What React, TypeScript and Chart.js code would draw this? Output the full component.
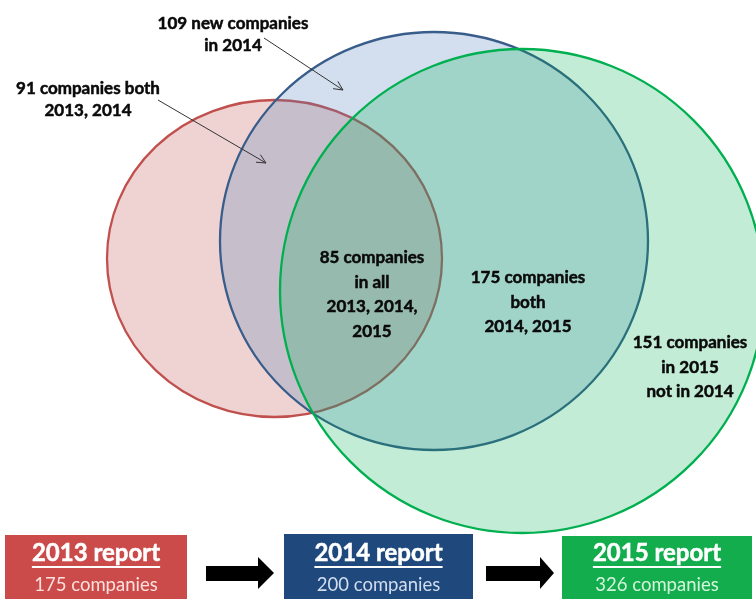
import React, { useEffect, useRef } from "react";
import { Chart, registerables } from "chart.js";

Chart.register(...registerables);

// ---- Data ----
const YEARS = ["2013", "2014", "2015"];
const REPORT_COUNTS = [175, 200, 326];
// Venn sets in diagram units (x to the right, y downward)
const CENTER_X = [274.5, 434, 522];
const CENTER_Y = [258.5, 241, 291];
const RADIUS_X = [167.5, 214, 242];
const RADIUS_Y = [158.5, 209, 242];

const REGION_TEXT: string[][] = [
  ["109 new companies", "in 2014"],
  ["91 companies both", "2013, 2014"],
  ["85 companies", "in all", "2013, 2014,", "2015"],
  ["175 companies", "both", "2014, 2015"],
  ["151 companies", "in 2015", "not in 2014"],
];
const REGION_X = [233, 88, 372, 528, 690];
const REGION_Y = [24, 89, 258, 278, 343];

// ---- Styles / layout ----
const SET_FILL = ["rgba(192,80,77,0.25)", "rgba(79,129,189,0.25)", "rgba(0,176,80,0.24)"];
const SET_STROKE = ["#c0504d", "#385d8a", "#00b050"];
const BOX_FILL = ["#cb4b4b", "#1f497d", "#14ad4e"];
const BOX_SUB = ["#fde0dc", "#d2ddef", "#d3f5dc"];
const BOX_LEFT = [5, 284, 562];
const BOX_RIGHT = [187, 473, 752];
const BOX_TOP = [535, 534, 536];
const POINTERS = [
  [264, 38, 343, 90],
  [158, 100, 266, 163],
];
const BLOCK_ARROWS = [
  [206, 258, 274],
  [486, 540, 554],
];
const FONT = "Lato, 'Open Sans', sans-serif";

const vennPlugin = {
  id: "venn",
  beforeDatasetsDraw(chart: any) {
    const { ctx, scales } = chart;
    const xs = scales.x;
    const ys = scales.y;
    ctx.save();
    for (let i = 0; i < CENTER_X.length; i++) {
      const cx = xs.getPixelForValue(CENTER_X[i]);
      const cy = ys.getPixelForValue(CENTER_Y[i]);
      const rx = Math.abs(xs.getPixelForValue(CENTER_X[i] + RADIUS_X[i]) - cx);
      const ry = Math.abs(ys.getPixelForValue(CENTER_Y[i] + RADIUS_Y[i]) - cy);
      ctx.beginPath();
      ctx.ellipse(cx, cy, rx, ry, 0, 0, Math.PI * 2);
      ctx.fillStyle = SET_FILL[i];
      ctx.fill();
      ctx.lineWidth = 2.3;
      ctx.strokeStyle = SET_STROKE[i];
      ctx.stroke();
    }
    ctx.restore();
  },
  afterDatasetsDraw(chart: any) {
    const { ctx, scales } = chart;
    const xs = scales.x;
    const ys = scales.y;
    const px = (v: number) => xs.getPixelForValue(v);
    const py = (v: number) => ys.getPixelForValue(v);
    ctx.save();
    // region labels
    ctx.fillStyle = "#0a0a0a";
    ctx.strokeStyle = "#0a0a0a";
    ctx.lineWidth = 0.5;
    ctx.textAlign = "center";
    ctx.textBaseline = "middle";
    ctx.font = `bold 17px ${FONT}`;
    REGION_TEXT.forEach((lines, i) => {
      lines.forEach((t, j) => {
        const lh = i < 2 ? 22 : 24.5;
        const x = px(REGION_X[i]);
        const y = py(REGION_Y[i] + j * lh);
        ctx.fillText(t, x, y);
        ctx.strokeText(t, x, y);
      });
    });
    // pointer arrows
    ctx.strokeStyle = "#333";
    ctx.lineWidth = 1;
    POINTERS.forEach(([x1, y1, x2, y2]) => {
      const a = px(x1), b = py(y1), c = px(x2), d = py(y2);
      ctx.beginPath();
      ctx.moveTo(a, b);
      ctx.lineTo(c, d);
      const ang = Math.atan2(d - b, c - a);
      const L = 10;
      ctx.moveTo(c, d);
      ctx.lineTo(c - L * Math.cos(ang - 0.45), d - L * Math.sin(ang - 0.45));
      ctx.moveTo(c, d);
      ctx.lineTo(c - L * Math.cos(ang + 0.45), d - L * Math.sin(ang + 0.45));
      ctx.stroke();
    });
    // report boxes
    const bottom = py(599);
    for (let i = 0; i < YEARS.length; i++) {
      const l = px(BOX_LEFT[i]), r = px(BOX_RIGHT[i]), t = py(BOX_TOP[i]);
      ctx.fillStyle = BOX_FILL[i];
      ctx.fillRect(l, t, r - l, bottom - t);
      const mid = (l + r) / 2;
      const title = `${YEARS[i]} report`;
      ctx.font = `bold 24px ${FONT}`;
      ctx.fillStyle = "#ffffff";
      ctx.strokeStyle = "#ffffff";
      ctx.lineWidth = 0.5;
      ctx.fillText(title, mid, py(553));
      ctx.strokeText(title, mid, py(553));
      const w = ctx.measureText(title).width;
      ctx.fillRect(mid - w / 2, py(566), w, 2);
      ctx.font = `18.5px ${FONT}`;
      ctx.fillStyle = BOX_SUB[i];
      ctx.fillText(`${REPORT_COUNTS[i]} companies`, mid, py(585));
    }
    // block arrows
    ctx.fillStyle = "#000";
    BLOCK_ARROWS.forEach(([x0, x1, x2]) => {
      ctx.beginPath();
      ctx.moveTo(px(x0), py(566));
      ctx.lineTo(px(x1), py(566));
      ctx.lineTo(px(x1), py(557));
      ctx.lineTo(px(x2), py(573));
      ctx.lineTo(px(x1), py(589));
      ctx.lineTo(px(x1), py(581));
      ctx.lineTo(px(x0), py(581));
      ctx.closePath();
      ctx.fill();
    });
    ctx.restore();
  },
};

export default function App() {
  const ref = useRef<HTMLCanvasElement | null>(null);
  useEffect(() => {
    document.body.style.margin = "0";
    if (!ref.current) return;
    const chart = new Chart(ref.current, {
      type: "scatter",
      data: {
        datasets: YEARS.map((y, i) => ({
          label: `${y} report`,
          data: [{ x: CENTER_X[i], y: CENTER_Y[i] }],
          pointRadius: 0,
          pointHoverRadius: 0,
        })),
      },
      options: {
        responsive: false,
        animation: false,
        layout: { padding: 0 },
        plugins: { legend: { display: false }, tooltip: { enabled: false } },
        scales: {
          x: { type: "linear", min: 0, max: 756, display: false },
          y: { type: "linear", min: 0, max: 599, reverse: true, display: false },
        },
      },
      plugins: [vennPlugin],
    });
    return () => chart.destroy();
  }, []);
  return (
    <div style={{ width: 756, height: 599, background: "#fff" }}>
      <canvas ref={ref} width={756} height={599} style={{ display: "block" }} />
    </div>
  );
}
